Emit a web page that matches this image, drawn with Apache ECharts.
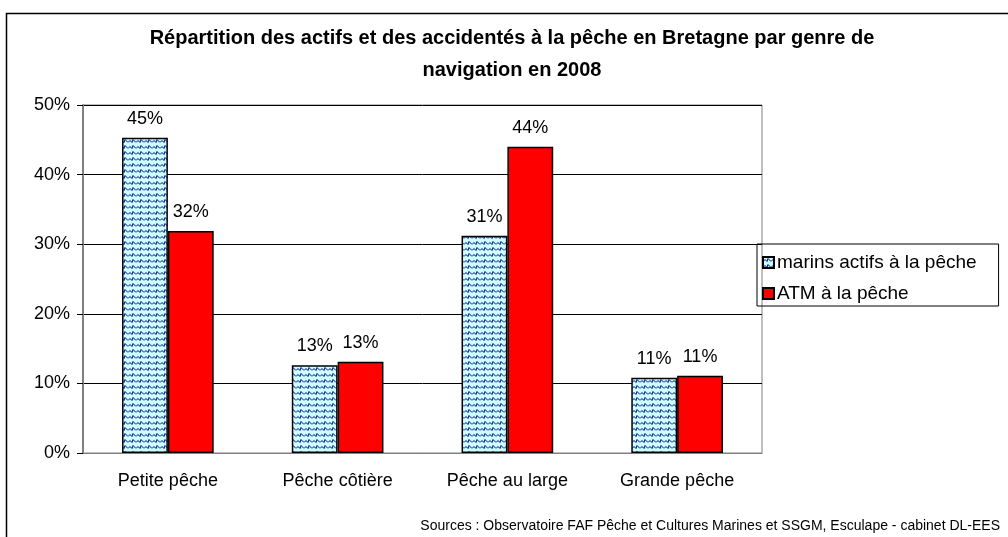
<!DOCTYPE html>
<html>
<head>
<meta charset="utf-8">
<script src="https://cdn.jsdelivr.net/npm/echarts@6/dist/echarts.min.js"></script>
<style>
html, body { margin: 0; padding: 0; background: #fff; }
#main { width: 1008px; height: 537px; }
</style>
</head>
<body>
<div id="main"></div>
<script>
var categories = ['Petite pêche', 'Pêche côtière', 'Pêche au large', 'Grande pêche'];
var marinsActifs = [45.3, 12.6, 31.2, 10.8];
var atm = [31.9, 13.1, 44.0, 11.1];
var seriesNames = ['marins actifs à la pêche', 'ATM à la pêche'];

// motif vague bleue sur fond cyan clair
function makePattern() {
	var c = document.createElement('canvas');
	c.width = 8; c.height = 6;
	var ctx = c.getContext('2d');
	ctx.fillStyle = '#ccffff';
	ctx.fillRect(0, 0, 8, 6);
	ctx.strokeStyle = '#000080';
	ctx.lineWidth = 1;
	ctx.beginPath();
	ctx.moveTo(0, 4.5);
	ctx.lineTo(2, 2.5);
	ctx.lineTo(4, 4.5);
	ctx.moveTo(4, 4.5);
	ctx.lineTo(5, 1.5);
	ctx.lineTo(8, 4.5);
	ctx.stroke();
	return c;
}

var font = '"Liberation Sans", Arial, sans-serif';
var myChart = echarts.init(document.getElementById('main'));
var option = {
	backgroundColor: '#fff',
	textStyle: { fontFamily: font },
	title: {
		text: 'Répartition des actifs et des accidentés à la pêche en Bretagne par genre de\nnavigation en 2008',
		left: 507,
		textAlign: 'center',
		top: 17,
		textStyle: { fontSize: 20, fontWeight: 'bold', color: '#000', lineHeight: 32, fontFamily: font }
	},
	legend: {
		orient: 'vertical',
		left: 757,
		top: 244,
		padding: [9, 22, 3, 5],
		borderColor: '#000',
		borderWidth: 1,
		icon: 'rect',
		itemWidth: 11,
		itemHeight: 11,
		itemGap: 12,
		textStyle: { fontSize: 19, color: '#000', fontFamily: font, padding: [0, 0, 0, -2] },
		data: seriesNames
	},
	grid: {
		left: 83,
		right: 246,
		top: 105,
		bottom: 84,
		show: true,
		borderColor: '#808080',
		borderWidth: 1
	},
	xAxis: {
		type: 'category',
		data: categories,
		axisLine: { lineStyle: { color: '#808080' } },
		axisTick: { show: false },
		axisLabel: { fontSize: 18, color: '#000', margin: 19 }
	},
	yAxis: {
		type: 'value',
		min: 0,
		max: 50,
		interval: 10,
		axisLine: { show: true, lineStyle: { color: '#808080', width: 2 } },
		axisTick: { show: true, length: 6, lineStyle: { color: '#000' } },
		splitLine: { lineStyle: { color: '#000', width: 1 } },
		axisLabel: { fontSize: 18, color: '#000', margin: 13, formatter: '{value}%' }
	},
	series: [
		{
			name: seriesNames[0],
			type: 'bar',
			data: marinsActifs,
			barGap: '0%',
			barCategoryGap: '46%',
			itemStyle: {
				color: { image: makePattern(), repeat: 'repeat' },
				borderColor: '#000',
				borderWidth: 1.5
			},
			label: {
				show: true,
				position: 'top',
				distance: 10,
				fontSize: 18,
				color: '#000',
				formatter: function (p) { return Math.round(p.value) + '%'; }
			}
		},
		{
			name: seriesNames[1],
			type: 'bar',
			data: atm,
			itemStyle: { color: '#ff0000', borderColor: '#000', borderWidth: 1.5 },
			label: {
				show: true,
				position: 'top',
				distance: 10,
				fontSize: 18,
				color: '#000',
				formatter: function (p) { return Math.round(p.value) + '%'; }
			}
		}
	],
	graphic: [
		{
			type: 'rect',
			left: 4,
			top: 11,
			shape: { width: 1020, height: 540 },
			style: { fill: 'none', stroke: '#000', lineWidth: 1.5 },
			silent: true
		},
		{
			type: 'text',
			right: 8,
			top: 519,
			style: {
				text: 'Sources : Observatoire FAF Pêche et Cultures Marines et SSGM, Esculape - cabinet DL-EES',
				fontSize: 14,
				fill: '#000',
				fontFamily: font
			}
		}
	]
};
myChart.setOption(option);
</script>
</body>
</html>
